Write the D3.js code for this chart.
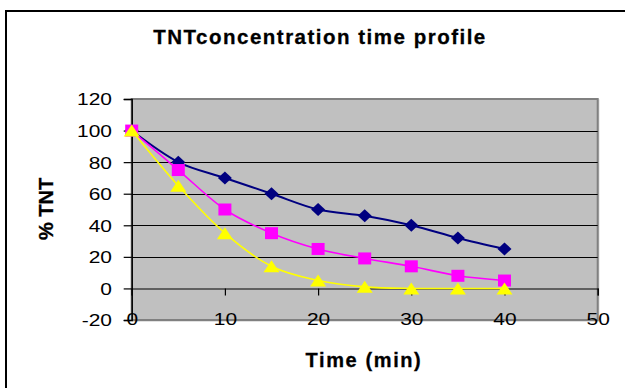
<!DOCTYPE html>
<html>
<head>
<meta charset="utf-8">
<script src="https://cdn.jsdelivr.net/npm/d3@7"></script>
<style>
  html, body { margin: 0; padding: 0; background: #fff; }
  svg { display: block; font-family: Arial, "Liberation Sans", sans-serif; }
</style>
</head>
<body>
<svg id="chart" width="625" height="388"></svg>
<script>
// ---- data ----
const times = [0, 5, 10, 15, 20, 25, 30, 35, 40];
const seriesA = [100, 80, 70, 60, 50, 46, 40, 32, 25];   // navy diamonds
const seriesB = [100, 75, 50, 35, 25, 19, 14, 8, 5];     // magenta squares
const seriesC = [100, 65, 35, 14, 5, 1, 0, 0, 0];        // yellow triangles
const xTicks = [0, 10, 20, 30, 40, 50];
const yTicks = [-20, 0, 20, 40, 60, 80, 100, 120];
const titleText = "TNTconcentration time profile";
const xTitle = "Time (min)";
const yTitle = "% TNT";

// ---- layout ----
const svg = d3.select("#chart");
const L = 131.7, R = 597.7, T = 99, B = 320;
const x = d3.scaleLinear().domain([0, 50]).range([L, R]);
const y = d3.scaleLinear().domain([-20, 120]).range([B, T]);
const SX = 1.27; // horizontal stretch of tick labels
const FS = 16.5;

// outer chart border
svg.append("rect").attr("x", 6).attr("y", 11).attr("width", 700).attr("height", 500)
  .attr("fill", "#fff").attr("stroke", "#000").attr("stroke-width", 2);

// title
svg.append("text").attr("x", 320).attr("y", 44).attr("text-anchor", "middle")
  .attr("font-size", 20.5).attr("font-weight", "bold").attr("letter-spacing", "1.5px")
  .attr("stroke", "#000").attr("stroke-width", 0.3)
  .text(titleText);

// plot area
svg.append("rect").attr("x", L + 1).attr("y", T + 1).attr("width", R - L).attr("height", B - T)
  .attr("fill", "none").attr("stroke", "#d8d8d8").attr("stroke-width", 1.5);
svg.append("rect").attr("x", L).attr("y", T).attr("width", R - L).attr("height", B - T)
  .attr("fill", "#c0c0c0").attr("stroke", "#808080").attr("stroke-width", 2);

// gridlines
svg.append("g").selectAll("line").data(yTicks.filter(d => d > -20 && d < 120 && d !== 0))
  .join("line")
  .attr("x1", L).attr("x2", R)
  .attr("y1", d => Math.round(y(d)) + 0.5).attr("y2", d => Math.round(y(d)) + 0.5)
  .attr("stroke", "#000").attr("stroke-width", 1);

// x axis at y = 0
const xAxis = svg.append("g").attr("transform", `translate(0,${Math.round(y(0)) + 0.5})`)
  .call(d3.axisBottom(x).tickValues(xTicks).tickSize(7).tickFormat(""));
xAxis.select(".domain").attr("stroke", "#000").attr("stroke-width", 1.2);
xAxis.selectAll(".tick line").attr("stroke", "#000").attr("stroke-width", 1.2);

// x tick labels (placed below plot area)
const xLab = svg.append("g").attr("transform", `translate(0,${B - 0.5})`)
  .call(d3.axisBottom(x).tickValues(xTicks).tickSize(0).tickPadding(0).tickFormat(d => String(d)));
xLab.select(".domain").remove();
xLab.selectAll(".tick text")
  .attr("y", 0).attr("dy", "0.36em")
  .attr("font-size", FS).attr("font-family", "Arial, 'Liberation Sans', sans-serif").attr("fill", "#000")
  .attr("transform", `scale(${SX},1)`);

// y axis
const yAxis = svg.append("g").attr("transform", `translate(${L},0)`)
  .call(d3.axisLeft(y).tickValues(yTicks).tickSize(8).tickPadding(0).tickFormat(d => String(d)));
yAxis.select(".domain").attr("stroke", "#000").attr("stroke-width", 1.5);
yAxis.selectAll(".tick line").attr("stroke", "#000").attr("stroke-width", 1.2);
yAxis.selectAll(".tick text")
  .attr("x", 0).attr("dy", "0.36em")
  .attr("font-size", FS).attr("font-family", "Arial, 'Liberation Sans', sans-serif").attr("fill", "#000")
  .attr("transform", `translate(${112 - L},0) scale(${SX},1)`);

// axis titles
svg.append("text").attr("x", 364).attr("y", 367).attr("text-anchor", "middle")
  .attr("font-size", 20).attr("font-weight", "bold").attr("letter-spacing", "1.6px")
  .attr("stroke", "#000").attr("stroke-width", 0.3)
  .text(xTitle);
svg.append("text").attr("transform", "translate(53,209) rotate(-90)").attr("text-anchor", "middle")
  .attr("font-size", 20).attr("font-weight", "bold")
  .attr("stroke", "#000").attr("stroke-width", 0.3)
  .text(yTitle);

// custom marker shapes (half-width, half-height)
const diamond = (hw, hh) => ({ draw(c) { c.moveTo(0, -hh); c.lineTo(hw, 0); c.lineTo(0, hh); c.lineTo(-hw, 0); c.closePath(); } });
const square = (hw, hh) => ({ draw(c) { c.rect(-hw, -hh, 2 * hw, 2 * hh); } });
const triangle = (hw, hh) => ({ draw(c) { c.moveTo(0, -hh); c.lineTo(hw, hh); c.lineTo(-hw, hh); c.closePath(); } });

// series
const line = d3.line().x((d, i) => x(times[i])).y(d => y(d)).curve(d3.curveCardinal.tension(0));
const series = [
  { v: seriesA, color: "#000080", w: 2, sym: diamond(7, 6.5) },
  { v: seriesB, color: "#ff00ff", w: 1.6, sym: square(6.5, 6) },
  { v: seriesC, color: "#ffff00", w: 1.6, sym: triangle(8, 6) }
];
series.forEach(s => {
  const g = svg.append("g");
  g.append("path").datum(s.v).attr("d", line)
    .attr("fill", "none").attr("stroke", s.color).attr("stroke-width", s.w);
  g.selectAll("path.m").data(s.v).join("path").attr("class", "m")
    .attr("d", d3.symbol().type(s.sym))
    .attr("transform", (d, i) => `translate(${x(times[i])},${y(d)})`)
    .attr("fill", s.color);
});
</script>
</body>
</html>
